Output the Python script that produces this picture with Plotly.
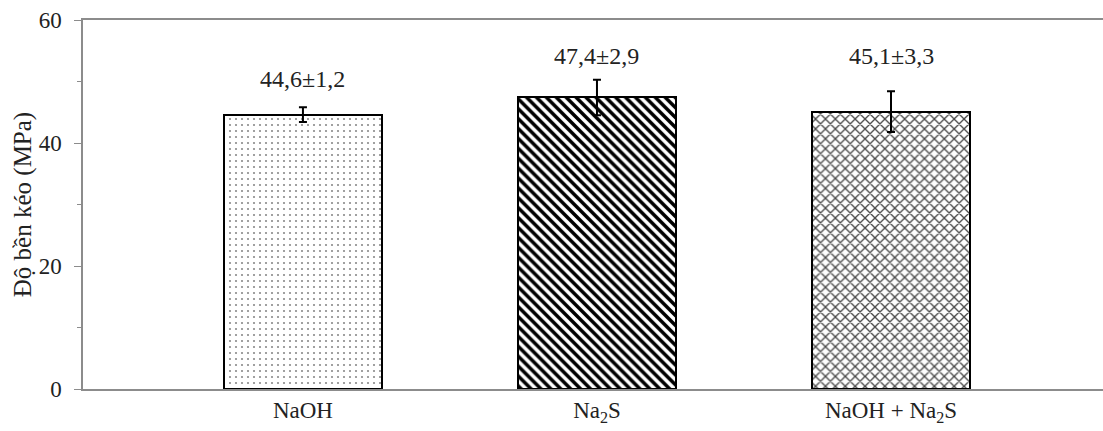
import plotly.graph_objects as go

# Tensile strength by treatment
categories = ["NaOH", "Na<sub>2</sub>S", "NaOH + Na<sub>2</sub>S"]
strength = [44.6, 47.4, 45.1]
std_dev = [1.2, 2.9, 3.3]
value_labels = ["44,6±1,2", "47,4±2,9", "45,1±3,3"]

FONT = "Liberation Serif, Times New Roman, serif"
AXIS_GRAY = "#8c8c8c"

x_pos = list(range(len(categories)))

patterns = [
    dict(shape=".", fgcolor="#8a8a8a", bgcolor="white", size=6, solidity=0.1, fgopacity=1),
    dict(shape="\\", fgcolor="black", bgcolor="white", size=7, solidity=0.5, fgopacity=1),
    dict(shape="x", fgcolor="#4a4a4a", bgcolor="white", size=7, solidity=0.35, fgopacity=1),
]

fig = go.Figure()
for i, (xp, val, err) in enumerate(zip(x_pos, strength, std_dev)):
    fig.add_trace(go.Bar(
        x=[xp], y=[val], width=0.535,
        marker=dict(color="white", line=dict(color="black", width=2), pattern=patterns[i]),
        error_y=dict(type="data", array=[err], visible=True, color="black", thickness=2, width=4),
        showlegend=False, hoverinfo="skip",
    ))

# value ± deviation labels above each bar
label_shift = [28, 24, 35]
for xp, val, err, txt, sh in zip(x_pos, strength, std_dev, value_labels, label_shift):
    fig.add_annotation(x=xp, y=val + err, text=txt, showarrow=False, yshift=sh,
                       font=dict(family=FONT, size=24, color="#222222"))

fig.update_layout(
    width=1103, height=431,
    margin=dict(l=83, r=0, t=20, b=42),
    plot_bgcolor="white", paper_bgcolor="white",
    font=dict(family=FONT, size=23, color="#222222"),
    bargap=0,
)
fig.update_xaxes(
    range=[-0.748, 2.721],
    tickvals=x_pos, ticktext=categories,
    tickfont=dict(family=FONT, size=23),
    showline=True, linecolor=AXIS_GRAY, linewidth=1.5, mirror=True,
    ticks="", showgrid=False, zeroline=False,
)
fig.update_yaxes(
    range=[0, 60], tickvals=[0, 20, 40, 60],
    title=dict(text="Độ bền kéo (MPa)", font=dict(family=FONT, size=25), standoff=0),
    tickfont=dict(family=FONT, size=23),
    ticklabelstandoff=8,
    showline=True, linecolor=AXIS_GRAY, linewidth=1.5,
    ticks="outside", ticklen=7, tickcolor=AXIS_GRAY, tickwidth=1,
    minor=dict(tickvals=[10, 30, 50], ticks="outside", ticklen=4, tickcolor=AXIS_GRAY),
    showgrid=False, zeroline=False,
)

fig.write_html("out.html")
